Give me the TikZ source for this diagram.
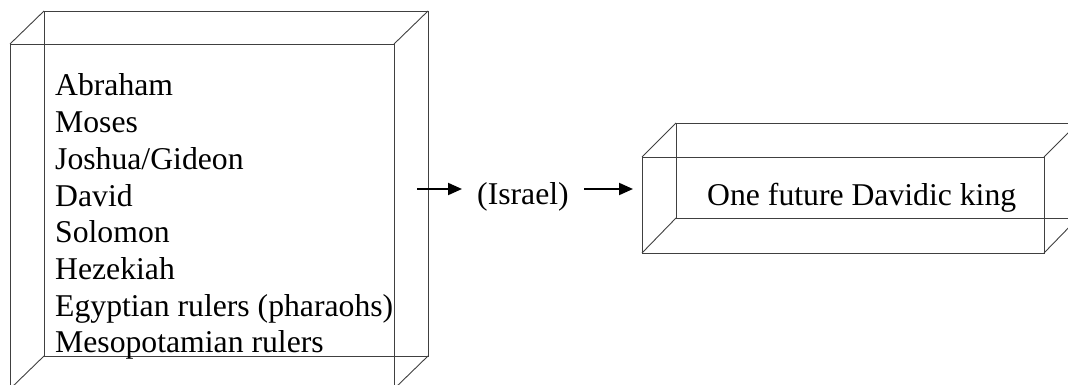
\documentclass[tikz,border=0pt]{standalone}
\usepackage{fontspec}
\setmainfont{Liberation Serif}
\usetikzlibrary{arrows.meta}
\begin{document}
\begin{tikzpicture}[x=1pt,y=-1pt,
  edge/.style={draw=black!75,line width=0.9pt},
  flow/.style={line width=2pt,-{Triangle[length=14pt,width=12pt]}},
  txt/.style={inner sep=0pt,anchor=base west,font=\fontsize{31.7}{36.7}\selectfont}]
\useasboundingbox (0,0) rectangle (1068,385);
\clip (0,0) rectangle (1068,385);

% left wireframe box
\draw[edge] (10,44) rectangle (394,389);
\draw[edge] (44,11) rectangle (428,356);
\draw[edge] (10,44) -- (44,11) (394,44) -- (428,11)
            (394,389) -- (428,356) (10,389) -- (44,356);

% right wireframe box
\draw[edge] (642,157) rectangle (1044,253);
\draw[edge] (676,123) rectangle (1078,218);
\draw[edge] (642,157) -- (676,123) (1044,157) -- (1078,123)
            (1044,253) -- (1078,218) (642,253) -- (676,218);

% list of figures
\node[txt] (n1) at (55,96.0)  {Abraham};
\node[txt] (n2) at (55,132.7) {Moses};
\node[txt] (n3) at (55,169.4) {Joshua/Gideon};
\node[txt] (n4) at (55,206.1) {David};
\node[txt] (n5) at (55,242.8) {Solomon};
\node[txt] (n6) at (55,279.5) {Hezekiah};
\node[txt] (n7) at (55,316.2) {Egyptian rulers (pharaohs)};
\node[txt] (n8) at (55,352.9) {Mesopotamian rulers};

\node[txt] (israel) at (477,204) {(Israel)};
\node[txt] (king) at (707,205) {One future Davidic king};

% arrows
\coordinate (a1s) at (417,189);
\coordinate (a1e) at (462,189);
\coordinate (a2s) at (584,189);
\coordinate (a2e) at (633,189);
\draw[flow] (a1s) -- (a1e);
\draw[flow] (a2s) -- (a2e);
\end{tikzpicture}
\end{document}
